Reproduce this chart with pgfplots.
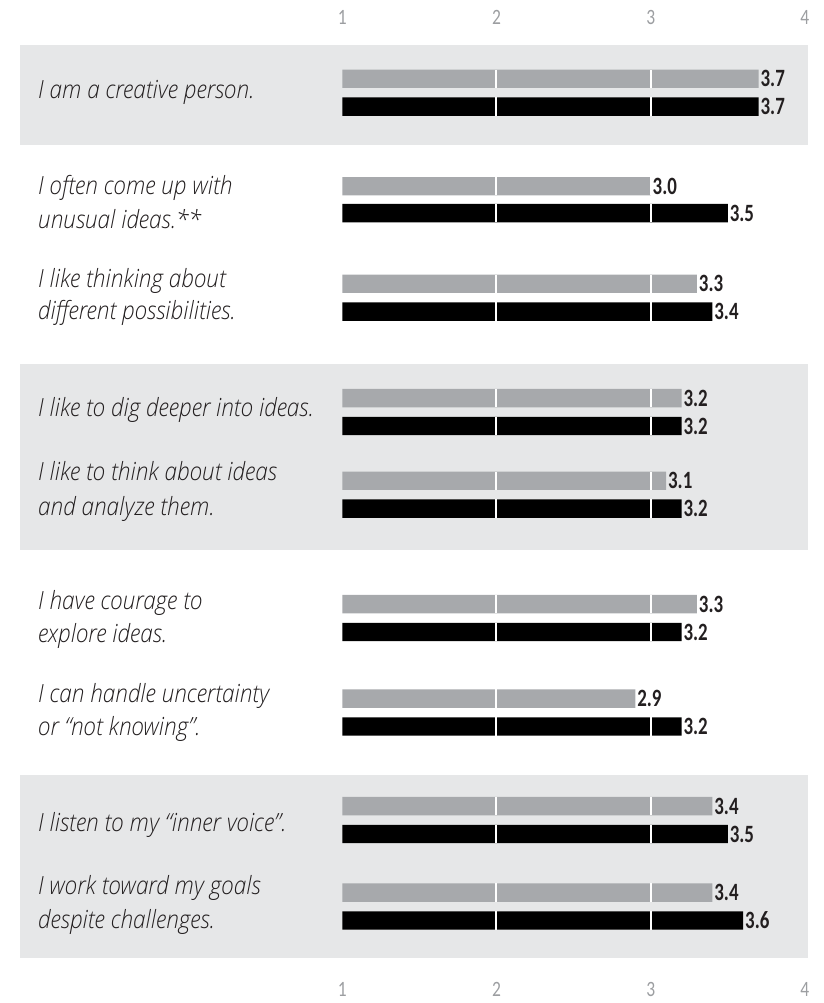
\documentclass[border=0pt]{standalone}
\usepackage{pgfplots}
\pgfplotsset{compat=1.18}
\usepackage{pgfplotstable}
\usepackage{fontspec}
\setmainfont{Open Sans}
\IfFontExistsTF{Open Sans Light Italic}
  {\newfontfamily\lblfont{Open Sans Light Italic}[FakeStretch=0.9]}
  {\newfontfamily\lblfont{Open Sans Italic}[FakeStretch=0.9]}
\newfontfamily\numfont{Carlito Bold}[FakeStretch=0.76]
\newfontfamily\tickfont{Carlito}[FakeStretch=0.8]
\definecolor{band}{HTML}{E6E7E8}
\definecolor{barg}{HTML}{A7A9AC}
\definecolor{txt}{HTML}{231F20}
\definecolor{tickc}{HTML}{9C9EA1}

% y = pixel row of bar centre (from top), v = mean score
\pgfplotstableread{
y v
79 3.7
187 3.0
285 3.3
400 3.2
483 3.1
607 3.3
702 2.9
810 3.4
897 3.4
}\greydata
\pgfplotstableread{
y v
107 3.7
214 3.5
313 3.4
428 3.2
511 3.2
635 3.2
730 3.2
838 3.5
925 3.6
}\blackdata

\pgfplotsset{
  common/.style={
    width=414pt, height=501.5pt, scale only axis,
    at={(0,0)}, anchor=south west,
    xmin=-2.2194, xmax=3.1226, ymin=0, ymax=1003,
    enlargelimits=false, clip=false,
    axis line style={draw=none},
    every outer x axis line/.append style={draw=none},
    every outer y axis line/.append style={draw=none},
    major tick length=0pt,
    ytick=\empty,
    xtick={0,1,2,3}, xticklabels={1,2,3,4},
    /pgf/number format/assume math mode=true,
  },
}
\tikzset{
  lbl/.style={anchor=base west, inner sep=0pt, text=txt,
    font=\lblfont\fontsize{12.6}{12.6}\selectfont},
}

\begin{document}
\begin{tikzpicture}
\begin{axis}[common,
  xticklabel style={anchor=center, yshift=4.5pt, text=tickc,
    font=\tickfont\fontsize{11}{11}\selectfont},
  xbar, bar width=18.5,
  point meta=explicit,
  nodes near coords={\pgfmathprintnumber[fixed,fixed zerofill,precision=1]{\pgfplotspointmeta}},
  nodes near coords style={anchor=west, inner sep=0pt, xshift=0.8pt, text=txt,
    font=\numfont\fontsize{12.5}{12.5}\selectfont},
]
% background bands
\fill[band] (axis cs:-2.0903,958) rectangle (axis cs:3.0194,857);
\fill[band] (axis cs:-2.0903,637) rectangle (axis cs:3.0194,450);
\fill[band] (axis cs:-2.0903,224) rectangle (axis cs:3.0194,40);

\addplot[fill=barg, draw=none, bar shift=0pt]
  table[x expr=\thisrow{v}-1, y expr=1003-\thisrow{y}, meta=v] {\greydata};
\addplot[fill=black, draw=none, bar shift=0pt]
  table[x expr=\thisrow{v}-1, y expr=1003-\thisrow{y}, meta=v] {\blackdata};

% white dividers at 2 and 3 on each bar
\pgfplotsinvokeforeach{79,107,187,214,285,313,400,428,483,511,607,635,702,730,810,838,897,925}{
  \draw[white, line width=1pt] (axis cs:1,{1003-#1-9.25}) -- (axis cs:1,{1003-#1+9.25});
  \draw[white, line width=1pt] (axis cs:2,{1003-#1-9.25}) -- (axis cs:2,{1003-#1+9.25});
}

% statement labels
\node[lbl] at (axis cs:-1.974,904) {I am a creative person.};
\node[lbl] at (axis cs:-1.974,807.5) {I often come up with};
\node[lbl] at (axis cs:-1.974,774) {unusual ideas.**};
\node[lbl] at (axis cs:-1.974,714) {I like thinking about};
\node[lbl] at (axis cs:-1.974,682) {different possibilities.};
\node[lbl] at (axis cs:-1.974,585) {I like to dig deeper into ideas.};
\node[lbl] at (axis cs:-1.974,520) {I like to think about ideas};
\node[lbl] at (axis cs:-1.974,485) {and analyze them.};
\node[lbl] at (axis cs:-1.974,391) {I have courage to};
\node[lbl] at (axis cs:-1.974,357) {explore ideas.};
\node[lbl] at (axis cs:-1.974,297) {I can handle uncertainty};
\node[lbl] at (axis cs:-1.974,264) {or “not knowing”.};
\node[lbl] at (axis cs:-1.974,167) {I listen to my “inner voice”.};
\node[lbl] at (axis cs:-1.974,104) {I work toward my goals};
\node[lbl] at (axis cs:-1.974,70) {despite challenges.};
\end{axis}

\begin{axis}[common,
  xticklabel pos=right,
  xticklabel style={anchor=center, yshift=-8.75pt, text=tickc,
    font=\tickfont\fontsize{11}{11}\selectfont},
]
\end{axis}
\end{tikzpicture}
\end{document}
